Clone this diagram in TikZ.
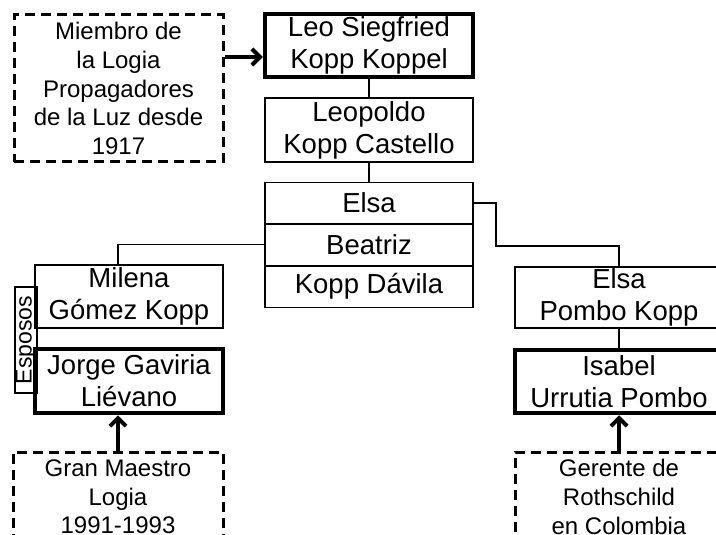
\documentclass[tikz,border=0pt]{standalone}
\usepackage{fontspec}
\setmainfont{Liberation Sans}
\usetikzlibrary{arrows.meta}
\tikzset{
  person/.style={draw, line width=1.5pt, align=center, inner sep=0pt,
    minimum width=208pt, minimum height=63pt,
    font=\fontsize{27.5}{32}\selectfont},
  keyperson/.style={person, line width=4.5pt},
  cell/.style={person, minimum height=41.5pt},
  note/.style={draw, dash pattern=on 10pt off 6pt, line width=3pt,
    align=center, inner sep=0pt, font=\fontsize{24}{28.7}\selectfont},
  link/.style={line width=1.5pt},
  pointer/.style={line width=4pt, -{Straight Barb[length=8pt,width=16pt]}}
}
\begin{document}
\begin{tikzpicture}[x=1pt,y=-1pt]
  \useasboundingbox (0,0) rectangle (716,535);
  \clip (0,0) rectangle (716,535);
  % top line
  \node[note, minimum width=209pt, minimum height=147pt] (miembro) at (118.5,88.5)
    {Miembro de\\la Logia\\Propagadores\\de la Luz desde\\1917};
  \node[keyperson] (leo) at (369,45.5) {Leo Siegfried\\Kopp Koppel};
  \node[person, minimum height=64pt] (leopoldo) at (369,130) {Leopoldo\\Kopp Castello};
  \node[cell] (elsa) at (369,203) {Elsa};
  \node[cell] (beatriz) at (369,244.5) {Beatriz};
  \node[cell] (koppdavila) at (369,286.5) {Kopp Dávila};
  % left branch
  \node[draw, line width=1.5pt, rotate=90, inner sep=0pt, minimum width=106pt,
    minimum height=22pt, font=\fontsize{23}{27}\selectfont] (esposos) at (26,340) {Esposos};
  \node[person, minimum width=188pt] (milena) at (129,296.5) {Milena\\Gómez Kopp};
  \node[keyperson, minimum width=188pt, minimum height=64pt] (jorge) at (129,381)
    {Jorge Gaviria\\Liévano};
  \node[note, minimum width=210pt, minimum height=90pt] (granmaestro) at (118,497)
    {Gran Maestro\\Logia\\1991-1993};
  % right branch
  \node[person, minimum height=61pt] (elsapombo) at (619,297.5) {Elsa\\Pombo Kopp};
  \node[keyperson] (isabel) at (619,381.5) {Isabel\\Urrutia Pombo};
  \node[note, minimum width=208pt, minimum height=90pt] (gerente) at (619,497)
    {Gerente de\\Rothschild\\en Colombia};
  % connectors
  \coordinate (arrowy) at (0,57);
  \draw[pointer] (miembro.east |- arrowy) -- (leo.west |- arrowy);
  \draw[link] (leo.south) -- (leopoldo.north);
  \draw[link] (leopoldo.south) -- (elsa.north);
  \draw[link] (elsa.east) -- ++(22,0) -- ++(0,43) -| (elsapombo.north);
  \draw[link] (beatriz.west) -| (milena.north -| granmaestro.north);
  \draw[link] (elsapombo.south) -- (isabel.north);
  \draw[pointer] (granmaestro.north) -- (granmaestro.north |- jorge.south);
  \draw[pointer] (gerente.north) -- (isabel.south);
\end{tikzpicture}
\end{document}
